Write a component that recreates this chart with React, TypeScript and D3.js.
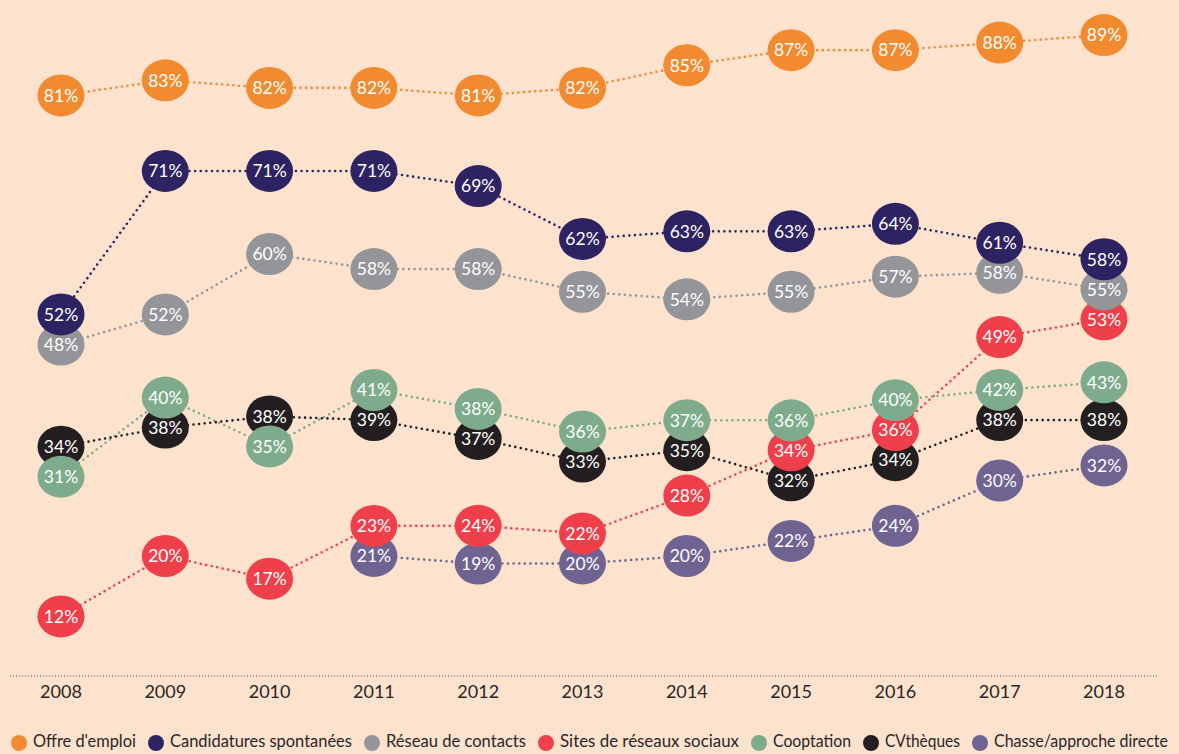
import React, { useLayoutEffect, useRef, useState } from "react";
import * as d3 from "d3";

const years = [2008, 2009, 2010, 2011, 2012, 2013, 2014, 2015, 2016, 2017, 2018];
const offreEmploi = [81, 83, 82, 82, 81, 82, 85, 87, 87, 88, 89];
const candidatures = [52, 71, 71, 71, 69, 62, 63, 63, 64, 61, 58];
const reseauContacts = [48, 52, 60, 58, 58, 55, 54, 55, 57, 58, 55];
const sitesReseaux = [12, 20, 17, 23, 24, 22, 28, 34, 36, 49, 53];
const cooptation = [31, 40, 35, 41, 38, 36, 37, 36, 40, 42, 43];
const cvtheques = [34, 38, 38, 39, 37, 33, 35, 32, 34, 38, 38];
const chasse = [null, null, null, 21, 19, 20, 20, 22, 24, 30, 32];

type Series = { name: string; color: string; values: (number | null)[] };

const series: Series[] = [
  { name: "Offre d'emploi", color: "#f28a30", values: offreEmploi },
  { name: "Candidatures spontanées", color: "#2d2262", values: candidatures },
  { name: "Réseau de contacts", color: "#939598", values: reseauContacts },
  { name: "Sites de réseaux sociaux", color: "#ee3f4a", values: sitesReseaux },
  { name: "Cooptation", color: "#7eab8c", values: cooptation },
  { name: "CVthèques", color: "#231f20", values: cvtheques },
  { name: "Chasse/approche directe", color: "#6e6391", values: chasse },
];

// drawing order of circles (later = on top)
const drawOrder = [6, 5, 3, 4, 2, 1, 0];

const W = 1179;
const H = 754;
const BG = "#fde2cd";
const TEXT = "#2a2526";

const x = d3.scaleLinear().domain([2008, 2018]).range([61, 1104]);
const y = d3.scaleLinear().domain([0, 100]).range([707, -48]);

const SEP = 30;

// compute dodged positions per year
function computePositions(): (number | null)[][] {
  const pos: (number | null)[][] = series.map((s) => s.values.map(() => null));
  years.forEach((_, yi) => {
    const items = series
      .map((s, si) => ({ si, v: s.values[yi] }))
      .filter((d) => d.v !== null)
      .map((d) => ({ si: d.si, y0: y(d.v as number) }))
      .sort((a, b) => a.y0 - b.y0);
    let clusters = items.map((it) => ({ members: [it], center: it.y0 }));
    const top = (c: any) => c.center - ((c.members.length - 1) / 2) * SEP;
    const bottom = (c: any) => c.center + ((c.members.length - 1) / 2) * SEP;
    let merged = true;
    while (merged) {
      merged = false;
      for (let i = 0; i < clusters.length - 1; i++) {
        if (top(clusters[i + 1]) - bottom(clusters[i]) < SEP) {
          const members = clusters[i].members.concat(clusters[i + 1].members);
          const center = d3.mean(members, (m) => m.y0) as number;
          clusters.splice(i, 2, { members, center });
          merged = true;
          break;
        }
      }
    }
    clusters.forEach((c) => {
      const n = c.members.length;
      c.members.forEach((m, k) => {
        pos[m.si][yi] = c.center + (k - (n - 1) / 2) * SEP;
      });
    });
  });
  return pos;
}

const legendTextWidths = [103, 182, 140, 179, 78, 75, 174];

export default function App() {
  const pos = computePositions();
  const line = d3
    .line<[number, number]>()
    .x((d) => d[0])
    .y((d) => d[1]);

  const textRefs = useRef<(SVGTextElement | null)[]>([]);
  const [scales, setScales] = useState<number[]>(series.map(() => 0.85));

  useLayoutEffect(() => {
    const s = textRefs.current.map((el, i) => {
      if (!el) return 0.85;
      const len = el.getComputedTextLength();
      return len > 0 ? legendTextWidths[i] / len : 0.85;
    });
    setScales(s);
  }, []);

  // legend layout
  let lx = 19;
  const legendItems = series.map((s, i) => {
    const item = { cx: lx, tx: lx + 14, w: legendTextWidths[i], s };
    lx = lx + 14 + legendTextWidths[i] + 20;
    return item;
  });

  return (
    <svg
      width={W}
      height={H}
      style={{ position: "absolute", left: 0, top: 0, display: "block" }}
      fontFamily="Lato, 'Open Sans', sans-serif"
    >
      <rect x={0} y={0} width={W} height={H} fill={BG} />
      {/* lines */}
      {series.map((s, si) => {
        const pts: [number, number][] = [];
        years.forEach((yr, yi) => {
          const p = pos[si][yi];
          if (p !== null) pts.push([x(yr), p]);
        });
        return (
          <path
            key={"l" + si}
            d={line(pts) || ""}
            fill="none"
            stroke={s.color}
            strokeWidth={2.6}
            strokeLinecap="round"
            strokeDasharray="0 5.6"
          />
        );
      })}
      {/* circles */}
      {drawOrder.map((si) => {
        const s = series[si];
        return (
          <g key={"c" + si}>
            {years.map((yr, yi) => {
              const v = s.values[yi];
              const p = pos[si][yi];
              if (v === null || p === null) return null;
              return (
                <g key={yr} transform={`translate(${x(yr)},${p})`}>
                  <ellipse rx={23.5} ry={21} fill={s.color} />
                  <text
                    textAnchor="middle"
                    dy="0.36em"
                    fill="#ffffff"
                    fontSize={17.5}
                  >
                    {v}%
                  </text>
                </g>
              );
            })}
          </g>
        );
      })}
      {/* axis */}
      <line
        x1={10}
        x2={1157}
        y1={676}
        y2={676}
        stroke="#555"
        strokeWidth={1}
        strokeDasharray="1 2"
      />
      {years.map((yr) => (
        <text
          key={"t" + yr}
          x={x(yr)}
          y={698}
          textAnchor="middle"
          fontSize={18}
          fill={TEXT}
        >
          {yr}
        </text>
      ))}
      {/* legend */}
      {legendItems.map((it, i) => (
        <g key={"lg" + i}>
          <circle cx={it.cx} cy={743} r={8} fill={it.s.color} />
          <g transform={`translate(${it.tx},747) scale(${scales[i]},1)`}>
            <text
              ref={(el) => {
                textRefs.current[i] = el;
              }}
              x={0}
              y={0}
              fontSize={17.5}
              fill={TEXT}
            >
              {it.s.name}
            </text>
          </g>
        </g>
      ))}
    </svg>
  );
}
